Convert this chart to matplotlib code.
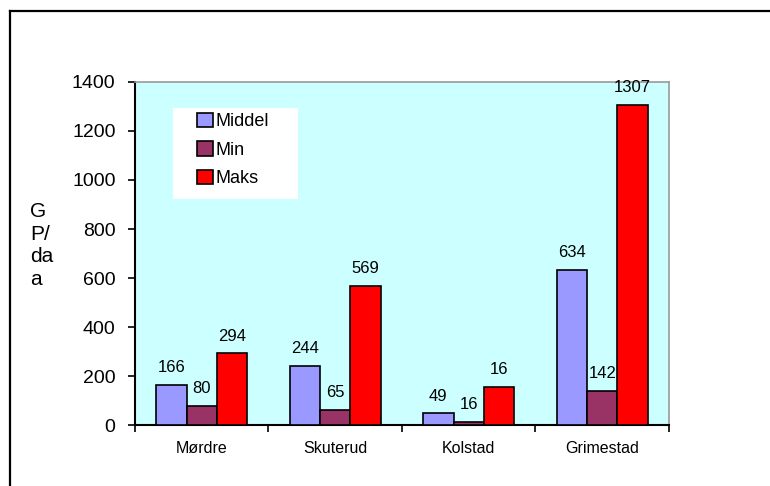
import numpy as np
import matplotlib.pyplot as plt
from matplotlib.lines import Line2D
from matplotlib.patches import Rectangle

plt.rcParams['font.family'] = ['Liberation Sans', 'DejaVu Sans']

# data
sites = ['Mørdre', 'Skuterud', 'Kolstad', 'Grimestad']
middel = [166, 244, 49, 634]
min_vals = [80, 65, 16, 142]
maks = [294, 569, 156, 1307]
# labels as printed on the chart
middel_labels = ['166', '244', '49', '634']
min_labels = ['80', '65', '16', '142']
maks_labels = ['294', '569', '16', '1307']

fig = plt.figure(figsize=(7.7, 4.86), dpi=100)
ax = fig.add_axes([0.1753, 0.1245, 0.6935, 0.7074])
ax.set_facecolor('#CCFFFF')

x = np.arange(len(sites))
w = 0.228
series = [(middel, middel_labels, '#9999FF', 'Middel'),
          (min_vals, min_labels, '#993366', 'Min'),
          (maks, maks_labels, '#FF0000', 'Maks')]

for i, (vals, labs, col, name) in enumerate(series):
    bars = ax.bar(x + (i - 1) * w, vals, w, color=col, edgecolor='black',
                  linewidth=1.2, label=name, zorder=3)
    for bar, lab in zip(bars, labs):
        ax.annotate(lab, (bar.get_x() + bar.get_width() / 2, bar.get_height()),
                    xytext=(0, 7), textcoords='offset points',
                    ha='center', va='bottom', fontsize=12, zorder=4)

ax.set_xlim(-0.5, 3.5)
ax.set_ylim(0, 1400)
ax.set_yticks(range(0, 1401, 200))
ax.set_xticks(x)
ax.set_xticklabels(sites, fontsize=11.5)
ax.set_xticks(np.arange(-0.5, 3.6, 1), minor=True)
ax.tick_params(axis='x', which='major', length=0, pad=11)
ax.tick_params(axis='x', which='minor', length=5, width=1.2, direction='out')
ax.tick_params(axis='y', length=5, width=1.2, direction='out', pad=9, labelsize=14)

for s in ['top', 'right']:
    ax.spines[s].set_color('#999999')
    ax.spines[s].set_linewidth(1.2)
for s in ['left', 'bottom']:
    ax.spines[s].set_linewidth(1.5)

fig.text(0.039, 0.495, 'G\nP/\nda\na', fontsize=15, ha='left', va='center',
         linespacing=1.25)

# white legend background box
ax.add_patch(Rectangle((0.071, 0.659), 0.234, 0.265, transform=ax.transAxes,
                       facecolor='white', edgecolor='none', zorder=2))
leg = ax.legend(loc='upper left', bbox_to_anchor=(0.117, 0.91), frameon=False,
                fontsize=13, handlelength=0.85, handleheight=0.85,
                handletextpad=0.15, borderpad=0, borderaxespad=0,
                labelspacing=0.62)

# outer frame lines (left and top visible)
fig.add_artist(Line2D([0.013, 0.013], [0, 0.977], color='black', lw=1.6,
                      transform=fig.transFigure))
fig.add_artist(Line2D([0.013, 1.0], [0.977, 0.977], color='black', lw=1.6,
                      transform=fig.transFigure))

fig.savefig('out.png', dpi=100)
